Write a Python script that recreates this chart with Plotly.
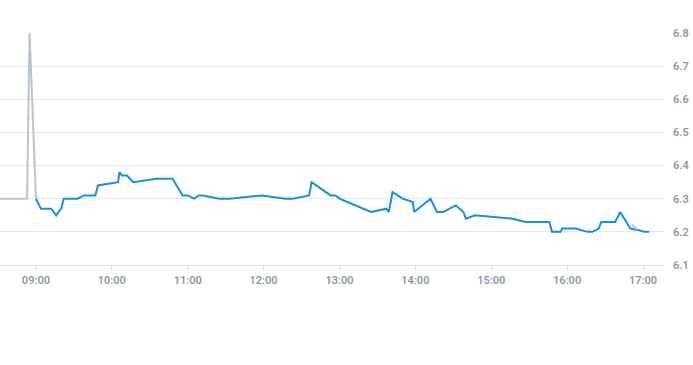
import plotly.graph_objects as go

day = "2024-01-02 "

# Pre-market (gray) series
pre_times = ["08:20", "08:53", "08:55", "09:00"]
pre_values = [6.30, 6.30, 6.80, 6.30]

# Main (blue) series
main_times = ["09:00", "09:04", "09:12", "09:16", "09:20", "09:22", "09:33", "09:38", "09:47",
              "09:49", "10:05", "10:06", "10:08", "10:12", "10:17", "10:35", "10:48", "10:56",
              "11:00", "11:05", "11:09", "11:12", "11:25", "11:33", "11:59", "12:17", "12:23",
              "12:36", "12:38", "12:53", "12:57", "13:00", "13:25", "13:37", "13:39", "13:42",
              "13:50", "13:58", "13:59", "14:12", "14:17", "14:22", "14:32", "14:35", "14:38",
              "14:40", "14:47", "15:16", "15:27", "15:46", "15:48", "15:55", "15:56", "16:07",
              "16:16", "16:20", "16:25", "16:27", "16:38", "16:42", "16:50", "16:57", "17:01",
              "17:05"]
main_values = [6.30, 6.27, 6.27, 6.25, 6.27, 6.30, 6.30, 6.31, 6.31,
               6.34, 6.35, 6.38, 6.37, 6.37, 6.35, 6.36, 6.36, 6.31,
               6.31, 6.30, 6.31, 6.31, 6.30, 6.30, 6.31, 6.30, 6.30,
               6.31, 6.35, 6.31, 6.31, 6.30, 6.26, 6.27, 6.26, 6.32,
               6.30, 6.29, 6.26, 6.30, 6.26, 6.26, 6.28, 6.27, 6.26,
               6.24, 6.25, 6.24, 6.23, 6.23, 6.20, 6.20, 6.21, 6.21,
               6.20, 6.20, 6.21, 6.23, 6.23, 6.26, 6.21, 6.205, 6.20,
               6.20]

# Faded after-hours (gray) fragment
post_times = ["16:51", "16:53", "16:56"]
post_values = [6.222, 6.215, 6.207]

x_ticks = ["09:00", "10:00", "11:00", "12:00", "13:00", "14:00", "15:00", "16:00", "17:00"]
y_ticks = [6.1, 6.2, 6.3, 6.4, 6.5, 6.6, 6.7, 6.8]

fig = go.Figure()
fig.add_trace(go.Scatter(x=[day + t for t in pre_times], y=pre_values, mode="lines",
                         line=dict(color="#b9c4cc", width=2), hoverinfo="skip"))
fig.add_trace(go.Scatter(x=[day + t for t in main_times], y=main_values, mode="lines",
                         line=dict(color="#1990db", width=2), hoverinfo="skip"))
fig.add_trace(go.Scatter(x=[day + t for t in post_times], y=post_values, mode="lines",
                         line=dict(color="#b9c4cc", width=2.5), opacity=0.8, hoverinfo="skip"))

fig.update_layout(
    width=693, height=365,
    margin=dict(l=0, r=29, t=33, b=100),
    paper_bgcolor="white", plot_bgcolor="white",
    showlegend=False,
    font=dict(family="Roboto, 'Open Sans', sans-serif", size=11, color="#8a98a5"),
    xaxis=dict(
        type="date",
        range=[day + "08:31:36", day + "17:16:36"],
        tickvals=[day + t for t in x_ticks],
        ticktext=x_ticks,
        showgrid=False, zeroline=False,
        showline=True, linecolor="#dde3e8", linewidth=1,
        ticks="outside", ticklen=5, tickcolor="#dde3e8",
        tickfont=dict(size=11, color="#8a98a5", weight=600),
    ),
    yaxis=dict(
        side="right",
        range=[6.1, 6.8],
        tickvals=y_ticks,
        ticktext=[f"{v:.1f}" for v in y_ticks],
        showgrid=True, gridcolor="#e6e9ec", gridwidth=1,
        zeroline=False, showline=False,
        ticks="", ticklabelstandoff=8,
        tickfont=dict(size=11, color="#8a98a5", weight=600),
    ),
)

fig.write_html("out.html")
